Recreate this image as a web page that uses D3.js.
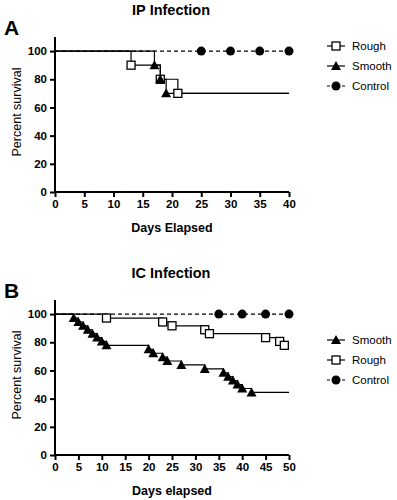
<!DOCTYPE html>
<html>
<head>
<meta charset="utf-8">
<script src="https://cdn.jsdelivr.net/npm/d3@7"></script>
<style>
  body { margin: 0; background: #fff; }
  text { font-family: "Liberation Sans", Arial, sans-serif; fill: #000; }
  .tick text { font-weight: bold; font-size: 11.5px; }
</style>
</head>
<body>
<svg id="chart" width="397" height="500"></svg>
<script>
// Panel A - IP infection (days, percent survival at each drop)
const ipRoughDays = [13, 18, 21];
const ipRoughSurv = [90, 80, 70];
const ipSmoothDays = [17, 18, 19];
const ipSmoothSurv = [90, 80, 70];
const ipControlDots = [25, 30, 35, 40];

// Panel B - IC infection
const icSmoothDays = [4, 5, 6, 7, 8, 9, 10, 11, 20, 21, 23, 24, 27, 32, 36, 37, 38, 39, 40, 42];
const icSmoothSurv = [97.2, 94.4, 91.7, 88.9, 86.1, 83.3, 80.6, 77.8, 75, 72.2, 69.4, 66.7, 63.9, 61.1, 58.3, 55.6, 52.8, 50, 47.2, 44.4];
const icRoughDays = [11, 23, 25, 32, 33, 45, 48, 49];
const icRoughSurv = [97.2, 94.4, 91.7, 88.9, 86.1, 83.3, 80.6, 77.8];
const icControlDots = [35, 40, 45, 50];

const yTicks = [0, 20, 40, 60, 80, 100];

const svg = d3.select('#chart');

const drawMarker = (g, type, x, y) => {
  if (type === 'square') {
    g.append('rect')
      .attr('x', x - 4).attr('y', y - 4)
      .attr('width', 8).attr('height', 8)
      .attr('fill', '#fff').attr('stroke', '#000').attr('stroke-width', 1.3);
  } else if (type === 'triangle') {
    g.append('path')
      .attr('d', `M${x},${y - 5}L${x + 5},${y + 4}L${x - 5},${y + 4}Z`)
      .attr('fill', '#000');
  } else {
    g.append('circle')
      .attr('cx', x).attr('cy', y).attr('r', 4.5)
      .attr('fill', '#000');
  }
};

const drawPanel = (opts) => {
  const g = svg.append('g');
  const x = d3.scaleLinear().domain([0, opts.xMax]).range([55, 289]);
  const y = d3.scaleLinear().domain([0, 110]).range([opts.bottom, opts.bottom - 155]);

  // title and panel letter
  const title = g.append('text')
    .attr('x', 171).attr('y', opts.bottom - 177)
    .attr('text-anchor', 'middle')
    .attr('font-size', 14.5).attr('font-weight', 'bold');
  title.append('tspan').attr('font-weight', 900).text(opts.titleA);
  title.append('tspan').text(' Infection');

  g.append('text')
    .attr('x', 4).attr('y', opts.bottom - 157)
    .attr('font-size', 21).attr('font-weight', 'bold')
    .text(opts.letter);

  // axes
  const yAxis = g.append('g')
    .attr('transform', 'translate(55,0)')
    .call(d3.axisLeft(y).tickValues(yTicks).tickSize(5).tickPadding(3));
  yAxis.select('.domain').attr('stroke-width', 2).attr('d', `M0,${opts.bottom}V${opts.bottom - 155}`);
  yAxis.selectAll('.tick line').attr('stroke-width', 2);

  const xAxis = g.append('g')
    .attr('transform', `translate(0,${opts.bottom})`)
    .call(d3.axisBottom(x).tickValues(d3.range(0, opts.xMax + 1, 5)).tickSize(5).tickPadding(3));
  xAxis.select('.domain').attr('stroke-width', 2).attr('d', 'M55,0H289');
  xAxis.selectAll('.tick line').attr('stroke-width', 2);

  g.append('text')
    .attr('transform', `translate(21,${opts.bottom - 80}) rotate(-90)`)
    .attr('text-anchor', 'middle')
    .attr('font-size', 12.5)
    .text('Percent survival');

  g.append('text')
    .attr('x', 172).attr('y', opts.bottom + 40)
    .attr('text-anchor', 'middle')
    .attr('font-size', 12.5).attr('font-weight', 'bold')
    .text(opts.xLabel);

  // control dashed line
  g.append('line')
    .attr('x1', x(0)).attr('x2', x(opts.xMax))
    .attr('y1', y(100)).attr('y2', y(100))
    .attr('stroke', '#000').attr('stroke-width', 1.2)
    .attr('stroke-dasharray', '4,3');
  opts.controlDots.forEach((d) => drawMarker(g, 'circle', x(d), y(100)));

  const line = d3.line()
    .x((d) => x(d[0]))
    .y((d) => y(d[1]))
    .curve(d3.curveStepAfter);

  opts.series.forEach((s) => {
    const pts = [[0, 100]].concat(s.days.map((d, i) => [d, s.surv[i]]));
    pts.push([opts.xMax, s.surv[s.surv.length - 1]]);
    g.append('path')
      .attr('d', line(pts))
      .attr('fill', 'none')
      .attr('stroke', '#000')
      .attr('stroke-width', 1.2);
  });
  opts.series.forEach((s) => {
    s.days.forEach((d, i) => drawMarker(g, s.marker, x(d), y(s.surv[i])));
  });

  // legend
  opts.legend.forEach((item, i) => {
    const ly = opts.legendTop + i * 20;
    const lg = g.append('g');
    lg.append('line')
      .attr('x1', 327).attr('x2', 345)
      .attr('y1', ly).attr('y2', ly)
      .attr('stroke', '#000').attr('stroke-width', 1.2)
      .attr('stroke-dasharray', item.marker === 'circle' ? '3,2' : null);
    drawMarker(lg, item.marker, 336, ly);
    lg.append('text')
      .attr('x', 352).attr('y', ly + 4)
      .attr('font-size', 11.5)
      .text(item.name);
  });
};

drawPanel({
  bottom: 192, xMax: 40, titleA: 'IP', letter: 'A', xLabel: 'Days Elapsed',
  controlDots: ipControlDots,
  series: [
    { days: ipRoughDays, surv: ipRoughSurv, marker: 'square' },
    { days: ipSmoothDays, surv: ipSmoothSurv, marker: 'triangle' }
  ],
  legendTop: 46,
  legend: [
    { name: 'Rough', marker: 'square' },
    { name: 'Smooth', marker: 'triangle' },
    { name: 'Control', marker: 'circle' }
  ]
});

drawPanel({
  bottom: 455, xMax: 50, titleA: 'IC', letter: 'B', xLabel: 'Days elapsed',
  controlDots: icControlDots,
  series: [
    { days: icSmoothDays, surv: icSmoothSurv, marker: 'triangle' },
    { days: icRoughDays, surv: icRoughSurv, marker: 'square' }
  ],
  legendTop: 340,
  legend: [
    { name: 'Smooth', marker: 'triangle' },
    { name: 'Rough', marker: 'square' },
    { name: 'Control', marker: 'circle' }
  ]
});
</script>
</body>
</html>
